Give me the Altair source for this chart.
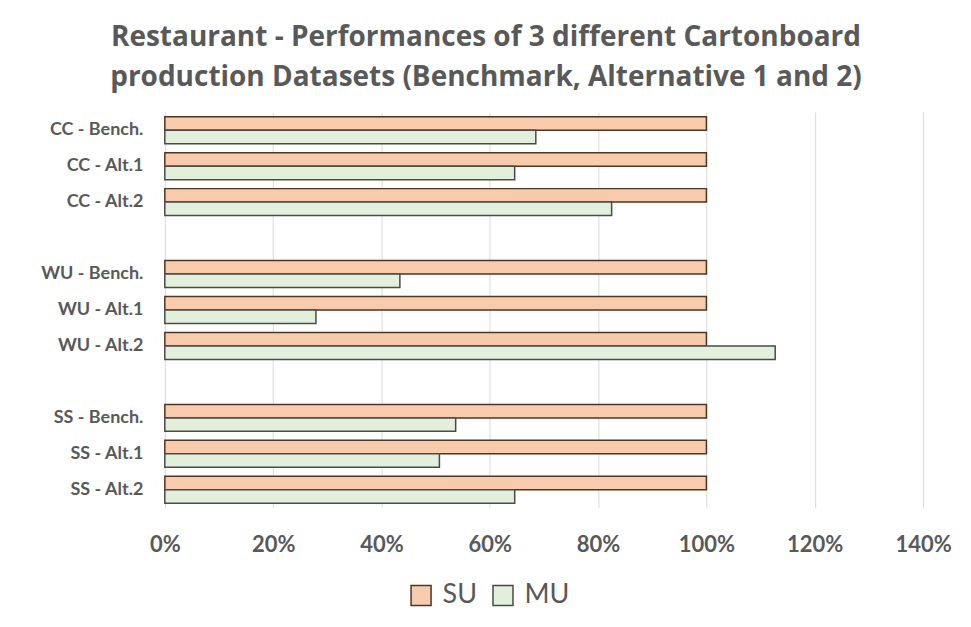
import altair as alt
import pandas as pd

categories = ["CC - Bench.", "CC - Alt.1", "CC - Alt.2",
              "WU - Bench.", "WU - Alt.1", "WU - Alt.2",
              "SS - Bench.", "SS - Alt.1", "SS - Alt.2"]
su_values = [1.00, 1.00, 1.00, 1.00, 1.00, 1.00, 1.00, 1.00, 1.00]
mu_values = [0.685, 0.646, 0.825, 0.434, 0.279, 1.127, 0.537, 0.507, 0.646]
series = ["SU", "MU"]
y_domain = ["CC - Bench.", "CC - Alt.1", "CC - Alt.2", " ",
            "WU - Bench.", "WU - Alt.1", "WU - Alt.2", "  ",
            "SS - Bench.", "SS - Alt.1", "SS - Alt.2"]
x_ticks = [0, 0.2, 0.4, 0.6, 0.8, 1.0, 1.2, 1.4]

rows = []
for c, s, m in zip(categories, su_values, mu_values):
    rows.append({"cat": c, "series": "SU", "value": s})
    rows.append({"cat": c, "series": "MU", "value": m})
df = pd.DataFrame(rows)

FONT = "Lato"
GRAY = "#595959"

chart = alt.Chart(df).mark_bar(strokeWidth=1.5).encode(
    x=alt.X("value:Q", scale=alt.Scale(domain=[0, 1.4], nice=False),
            axis=alt.Axis(values=x_ticks, format=".0%", title=None, domain=False, ticks=False,
                          labelFlush=False, labelPadding=27, labelFontSize=22,
                          labelFontWeight="bold", labelColor=GRAY, labelFont=FONT,
                          gridColor="#d9d9d9", gridWidth=1)),
    y=alt.Y("cat:N", scale=alt.Scale(domain=y_domain, paddingInner=0.25, paddingOuter=0.125),
            axis=alt.Axis(title=None, domain=False, ticks=False, labelPadding=22,
                          labelFontSize=18, labelFontWeight="bold", labelColor=GRAY,
                          labelFont=FONT)),
    yOffset=alt.YOffset("series:N", scale=alt.Scale(domain=series, paddingInner=0, paddingOuter=0)),
    fill=alt.Fill("series:N", scale=alt.Scale(domain=series, range=["#f8cbad", "#e2efda"]),
                  legend=alt.Legend(title=None, orient="none", legendX=243, legendY=470,
                                    direction="horizontal", symbolType="square", symbolSize=400,
                                    labelFontSize=27, labelColor=GRAY, labelFont=FONT,
                                    columnPadding=12, labelOffset=8, symbolStrokeWidth=1.5)),
    stroke=alt.Stroke("series:N", scale=alt.Scale(domain=series, range=["#4e3526", "#4a4a4a"]),
                      legend=None),
).properties(
    width=759, height=396,
    autosize=alt.AutoSizeParams(type="none"),
    padding={"left": 157, "top": 104, "right": 40, "bottom": 100},
    title=alt.TitleParams(
        ["Restaurant - Performances of 3 different Cartonboard",
         "production Datasets (Benchmark, Alternative 1 and 2)"],
        fontSize=28, font="Open Sans", fontWeight="bold", color=GRAY, anchor="middle",
        dx=-58, offset=20, lineHeight=40),
).configure_view(stroke=None)

chart.save("out.html", embed_options={"renderer": "svg", "actions": False})
